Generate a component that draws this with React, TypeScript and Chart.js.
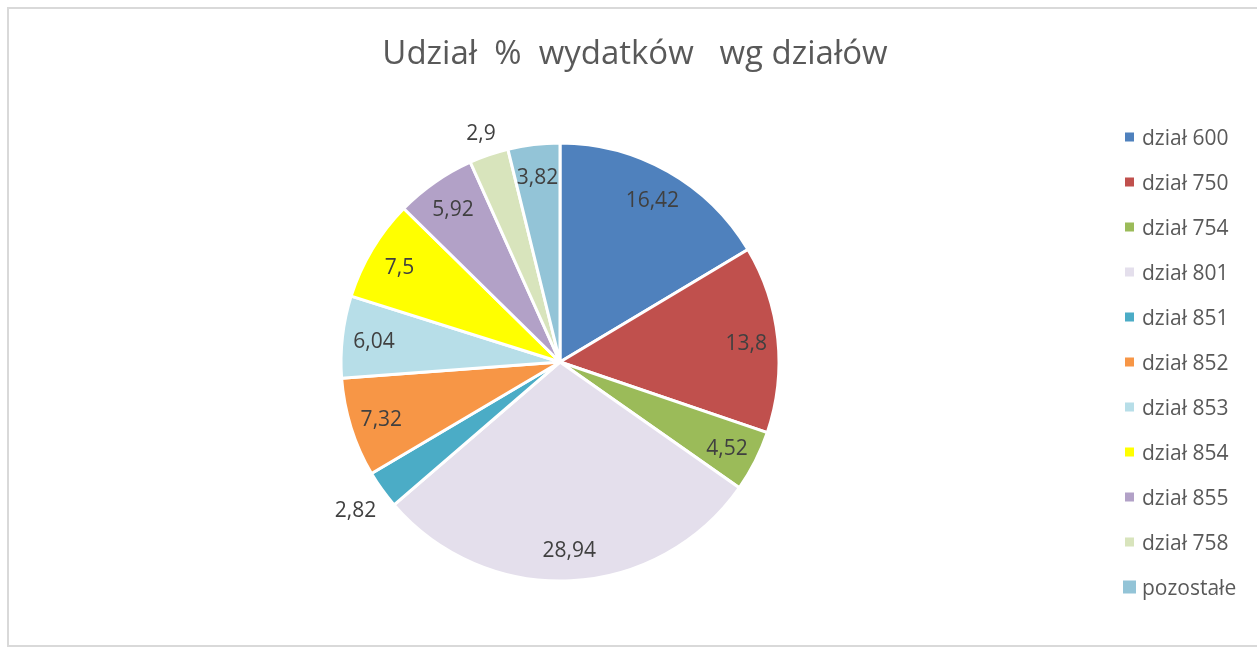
import React, { useEffect, useRef } from "react";
import { Chart, registerables } from "chart.js";

Chart.register(...registerables);

const titleText = "Udział  %  wydatków   wg działów";
const categories = [
  "dział 600",
  "dział 750",
  "dział 754",
  "dział 801",
  "dział 851",
  "dział 852",
  "dział 853",
  "dział 854",
  "dział 855",
  "dział 758",
  "pozostałe",
];
const values = [16.42, 13.8, 4.52, 28.94, 2.82, 7.32, 6.04, 7.5, 5.92, 2.9, 3.82];
const colors = [
  "#4F81BD",
  "#C0504D",
  "#9BBB59",
  "#E4DFEC",
  "#4BACC6",
  "#F79646",
  "#B7DEE8",
  "#FFFF00",
  "#B2A1C7",
  "#D8E4BC",
  "#93C4D7",
];

const FONT = '"Open Sans", "DejaVu Sans", sans-serif';
const fmt = (v: number) => String(v).replace(".", ",");

const labelPlugin = {
  id: "pieLabels",
  afterDatasetsDraw(chart: any) {
    const ctx = chart.ctx;
    const meta = chart.getDatasetMeta(0);
    const size = 21;
    ctx.save();
    ctx.font = `${size}px ${FONT}`;
    ctx.fillStyle = "#404040";
    ctx.textAlign = "center";
    ctx.textBaseline = "alphabetic";
    meta.data.forEach((arc: any, i: number) => {
      const p = arc.getProps(["x", "y", "startAngle", "endAngle", "outerRadius"], true);
      const mid = (p.startAngle + p.endAngle) / 2;
      const c = Math.cos(mid);
      const s = Math.sin(mid);
      const text = fmt(values[i]);
      let r: number;
      if (values[i] < 3) {
        const w = ctx.measureText(text).width;
        const h = 20;
        r = p.outerRadius + 10 + Math.abs(c) * (w / 2) + Math.abs(s) * (h / 2);
      } else {
        r = p.outerRadius * 0.855;
      }
      ctx.fillText(text, p.x + c * r, p.y + s * r + size * 0.38);
    });
    ctx.restore();
  },
};

const decorPlugin = {
  id: "decor",
  afterDraw(chart: any) {
    const ctx = chart.ctx;
    ctx.save();
    // title
    ctx.font = `33px ${FONT}`;
    ctx.fillStyle = "#595959";
    ctx.textAlign = "center";
    ctx.textBaseline = "alphabetic";
    ctx.fillText(titleText, 635, 64);

    // legend
    const meta = chart.getDatasetMeta(0);
    const cy = meta.data[0] ? meta.data[0].y : 362;
    const step = 45;
    const n = categories.length;
    const y0 = cy - ((n - 1) * step) / 2;
    const lsize = 21;
    ctx.font = `${lsize}px ${FONT}`;
    ctx.textAlign = "left";
    categories.forEach((label, i) => {
      const y = y0 + i * step;
      const box = i === n - 1 ? 13 : 9;
      const bx = 1129.5 - box / 2;
      ctx.fillStyle = colors[i];
      ctx.fillRect(bx, y - box / 2, box, box);
      ctx.fillStyle = "#595959";
      ctx.fillText(label, 1142, y + lsize * 0.36);
    });
    ctx.restore();
  },
};

export default function App() {
  const ref = useRef<HTMLCanvasElement | null>(null);
  useEffect(() => {
    if (!ref.current) return;
    Chart.defaults.font.family = FONT;
    const chart = new Chart(ref.current, {
      type: "pie",
      data: {
        labels: categories,
        datasets: [
          {
            data: values,
            backgroundColor: colors,
            borderColor: "#FFFFFF",
            borderWidth: 3,
          },
        ],
      },
      options: {
        responsive: false,
        animation: false,
        devicePixelRatio: 1,
        radius: 219,
        layout: { padding: { left: 100, right: 237, top: 100, bottom: 23 } },
        plugins: {
          legend: { display: false },
          title: { display: false },
          tooltip: { enabled: false },
        },
      } as any,
      plugins: [labelPlugin, decorPlugin],
    });
    return () => chart.destroy();
  }, []);

  return (
    <div style={{ position: "fixed", left: 0, top: 0, width: 1257, height: 647, overflow: "hidden", background: "#fff" }}>
      <div
        style={{
          position: "absolute",
          left: 7,
          top: 7,
          width: 1270,
          height: 640,
          boxSizing: "border-box",
          border: "2px solid #D9D9D9",
        }}
      />
      <canvas ref={ref} width={1257} height={647} style={{ position: "absolute", left: 0, top: 0, display: "block" }} />
    </div>
  );
}
